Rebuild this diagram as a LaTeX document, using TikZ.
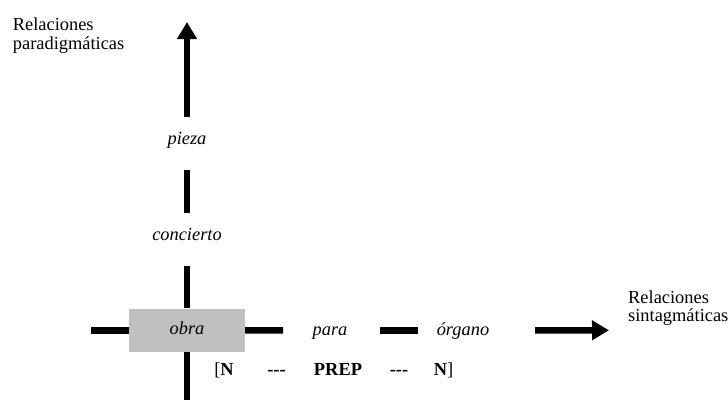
\documentclass[tikz,border=0pt]{standalone}
\usepackage{fontspec}
\setmainfont{Liberation Serif}
\usetikzlibrary{arrows.meta}
\definecolor{boxgray}{HTML}{C0C0C0}
\newcommand{\diagfont}{\fontsize{18.4}{18.6}\selectfont}

\begin{document}
\begin{tikzpicture}[x=1pt, y=-1pt,
  word/.style={font=\diagfont\itshape, inner sep=0pt, text height=13pt, text depth=4pt, anchor=base},
  rel/.style={font=\diagfont, inner sep=0pt, align=left, anchor=base west},
  tag/.style={font=\diagfont\bfseries, inner sep=0pt, anchor=base},
  seg/.style={line width=6.5pt},
  axis/.style={line width=6.5pt, -{Triangle[width=19pt,length=17pt]}}]
\useasboundingbox (0,0) rectangle (728,400);
% labels of the two axes (base = last line)
\node[rel] (paradig) at (12.7,49.3){Relaciones\\paradigmáticas};
\node[rel] (sintag) at (628,321.9){Relaciones\\sintagmáticas};
\node[word] (pieza) at (187,144){pieza};
\node[word] (concierto) at (187,240){concierto};
\node[word, fill=boxgray, minimum width=116pt, minimum height=43.5pt, anchor=center] (obra) at (187,330.3){obra};
\node[word] (para) at (330,335){para};
\node[word] (organo) at (463,335){órgano};
\coordinate (vtop) at (187,22);
\coordinate (vbot) at (187,400);
\coordinate (hleft) at (91,330.3);
\coordinate (hright) at (609,330.3);
\draw[axis, shorten <=22.5pt](pieza.center) -- (vtop);
\draw[seg, shorten <=30.5pt, shorten >=22.8pt](pieza.center) -- (concierto.center);
\draw[seg, shorten <=30.5pt](concierto.center) -- (obra.north);
\draw[seg](obra.south) -- (vbot);
\draw[seg](hleft) -- (obra.west);
\draw[seg, shorten >=47pt](obra.east) -- (para.center);
\draw[seg, shorten <=50pt, shorten >=45pt](para.center) -- (organo.center);
\draw[axis, shorten <=72pt](organo.center) -- (hright);

\node[tag] (n1) at (224,375){\mdseries[\bfseries N};
\node[tag] (d1) at (276.5,375){-{}-{}-};
\node[tag] (prep) at (338,375){PREP};
\node[tag] (d2) at (399,375){-{}-{}-};
\node[tag] (n2) at (443.5,375){N\mdseries]};
\end{tikzpicture}
\end{document}
